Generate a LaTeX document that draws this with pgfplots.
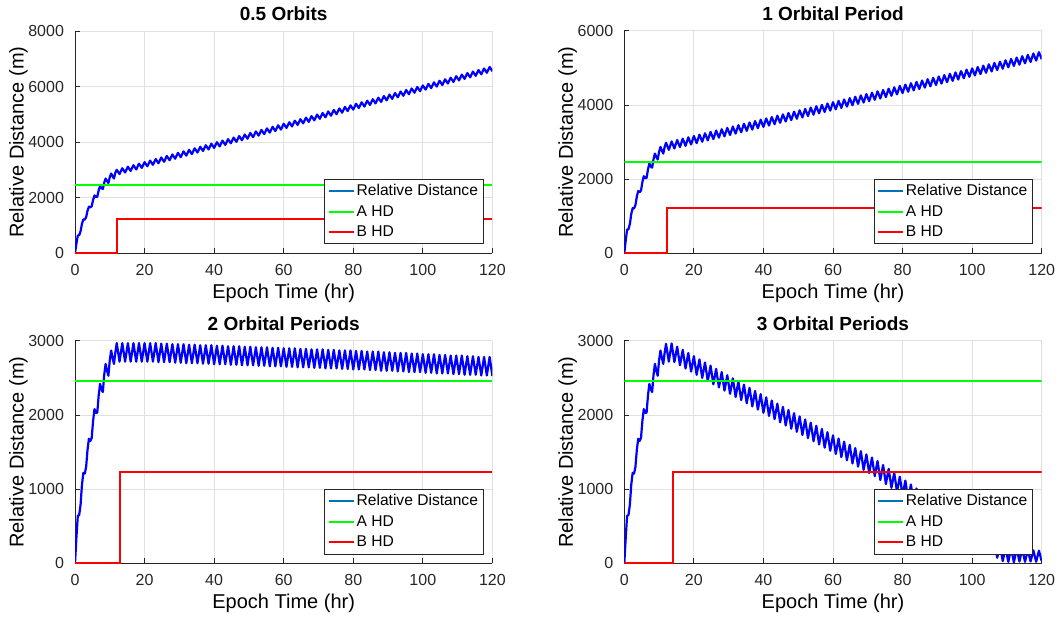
\documentclass[border=0pt]{standalone}
\usepackage{fontspec}
\setmainfont{Liberation Sans}
\usepackage{pgfplots}
\pgfplotsset{compat=1.18}
\usepackage{pgfplotstable}
\definecolor{mlblue}{rgb}{0,0.447,0.741}
\definecolor{axgray}{rgb}{0.15,0.15,0.15}
\definecolor{pblue}{rgb}{0,0,1}
\definecolor{pgreen}{rgb}{0,1,0}
\definecolor{pred}{rgb}{1,0,0}

\pgfplotstableread{
t a b c d
0.0 0 0 0 0
0.4 340 340 340 340
0.8 640 640 640 640
1.2 650 650 650 650
1.6 790 790 790 790
2.0 1060 1060 1060 1060
2.4 1220 1220 1220 1220
2.8 1210 1210 1210 1210
3.2 1300 1300 1300 1300
3.6 1530 1530 1530 1530
4.0 1680 1680 1680 1680
4.4 1650 1650 1650 1650
4.8 1690 1690 1690 1690
5.2 1920 1920 1920 1920
5.6 2080 2080 2080 2080
6.0 2030 2030 2030 2030
6.4 2030 2030 2030 2030
6.8 2260 2260 2260 2260
7.2 2420 2420 2420 2420
7.6 2350 2350 2350 2350
8.0 2310 2310 2310 2310
8.4 2540 2540 2540 2540
8.8 2690 2690 2690 2690
9.2 2600 2600 2600 2600
9.6 2530 2530 2530 2530
10.0 2740 2740 2740 2740
10.4 2870 2870 2870 2870
10.8 2770 2770 2770 2770
11.2 2690 2690 2690 2690
11.6 2900 2870 2845 2840
12.0 3004 2983 2970 2960
12.8 2852 2791 2720 2720
13.6 3059 3019 2970 2965
14.4 2907 2828 2720 2714
15.2 3114 3056 2970 2922
16.0 2962 2864 2720 2671
16.8 3170 3092 2970 2880
17.6 3017 2900 2720 2628
18.4 3225 3129 2970 2837
19.2 3072 2937 2720 2586
20.0 3280 3165 2970 2794
20.8 3128 2973 2720 2543
21.6 3335 3201 2970 2751
22.4 3183 3010 2720 2500
23.2 3390 3238 2970 2709
24.0 3238 3046 2713 2457
24.8 3446 3274 2963 2666
25.6 3293 3082 2713 2414
26.4 3501 3311 2963 2623
27.2 3348 3119 2713 2372
28.0 3556 3347 2956 2580
28.8 3404 3155 2706 2329
29.6 3611 3383 2956 2537
30.4 3459 3192 2706 2286
31.2 3666 3420 2956 2495
32.0 3514 3229 2699 2244
32.8 3722 3457 2949 2453
33.6 3569 3265 2699 2201
34.4 3777 3494 2949 2410
35.2 3624 3302 2699 2159
36.0 3832 3530 2942 2367
36.8 3680 3338 2692 2116
37.6 3887 3566 2942 2324
38.4 3735 3375 2692 2073
39.2 3942 3603 2942 2282
40.0 3790 3411 2685 2030
40.8 3998 3639 2935 2239
41.6 3845 3447 2685 1987
42.4 4053 3676 2935 2196
43.2 3900 3484 2685 1945
44.0 4108 3712 2928 2153
44.8 3956 3520 2678 1902
45.6 4163 3748 2928 2110
46.4 4011 3557 2678 1859
47.2 4218 3785 2928 2068
48.0 4066 3593 2671 1816
48.8 4274 3821 2921 2025
49.6 4121 3629 2671 1773
50.4 4329 3858 2921 1982
51.2 4176 3666 2671 1731
52.0 4384 3895 2914 1940
52.8 4232 3703 2664 1689
53.6 4439 3931 2914 1897
54.4 4287 3740 2664 1646
55.2 4494 3968 2914 1855
56.0 4342 3776 2657 1603
56.8 4550 4004 2907 1812
57.6 4397 3812 2657 1560
58.4 4605 4041 2907 1769
59.2 4452 3849 2657 1518
60.0 4660 4077 2900 1726
60.8 4508 3885 2650 1475
61.6 4715 4113 2900 1683
62.4 4563 3922 2650 1432
63.2 4770 4150 2900 1641
64.0 4618 3958 2643 1389
64.8 4826 4186 2893 1598
65.6 4673 3994 2643 1346
66.4 4881 4223 2893 1555
67.2 4728 4031 2643 1304
68.0 4936 4259 2886 1512
68.8 4784 4067 2636 1261
69.6 4991 4295 2886 1469
70.4 4839 4104 2636 1218
71.2 5046 4332 2886 1427
72.0 4894 4141 2629 1176
72.8 5102 4369 2879 1380
73.6 4949 4177 2629 1123
74.4 5157 4406 2879 1327
75.2 5004 4214 2629 1070
76.0 5212 4442 2872 1274
76.8 5060 4250 2622 1018
77.6 5267 4478 2872 1221
78.4 5115 4287 2622 965
79.2 5322 4515 2872 1168
80.0 5170 4323 2615 912
80.8 5378 4551 2865 1116
81.6 5225 4359 2615 859
82.4 5433 4588 2865 1063
83.2 5280 4396 2615 806
84.0 5488 4624 2856 1010
84.8 5336 4432 2606 754
85.6 5543 4660 2856 957
86.4 5391 4469 2606 701
87.2 5598 4697 2856 904
88.0 5446 4505 2597 648
88.8 5654 4733 2847 852
89.6 5501 4541 2597 595
90.4 5709 4770 2847 799
91.2 5556 4578 2597 542
92.0 5764 4807 2838 746
92.8 5612 4615 2588 490
93.6 5819 4843 2838 693
94.4 5667 4652 2588 437
95.2 5874 4880 2838 640
96.0 5722 4688 2579 384
96.8 5930 4916 2829 588
97.6 5777 4724 2579 331
98.4 5985 4953 2829 535
99.2 5832 4761 2579 278
100.0 6040 4989 2820 482
100.8 5888 4797 2570 226
101.6 6095 5025 2820 429
102.4 5943 4834 2570 173
103.2 6150 5062 2820 376
104.0 5998 4870 2561 160
104.8 6206 5098 2811 355
105.6 6053 4906 2561 130
106.4 6261 5135 2811 295
107.2 6108 4943 2561 75
108.0 6316 5171 2802 235
108.8 6164 4979 2552 30
109.6 6371 5207 2802 210
110.4 6219 5016 2552 20
111.2 6426 5244 2802 205
112.0 6274 5053 2543 15
112.8 6482 5281 2793 200
113.6 6329 5089 2543 25
114.4 6537 5318 2793 195
115.2 6384 5126 2543 20
116.0 6592 5354 2784 180
116.8 6440 5162 2534 25
117.6 6647 5390 2784 175
118.4 6495 5199 2534 20
119.2 6702 5427 2784 170
120.0 6550 5235 2525 30
}\reldist

\pgfplotsset{
  mstyle/.style={
    scale only axis, width=208.7pt, height=111.2pt,
    xmin=0, xmax=120, xtick={0,20,...,120},
    axis x line*=bottom, axis y line*=left,
    axis line style={axgray, line width=0.4pt},
    tick style={axgray, line width=0.4pt},
    tick align=inside, major tick length=2.5pt,
    grid=major, major grid style={line width=0.4pt, black!12},
    tick label style={font=\fontsize{8}{9.6}\selectfont, text=axgray},
    xticklabel style={yshift=-2pt},
    yticklabel style={xshift=-2pt},
    /pgf/number format/assume math mode=true,
    /pgf/number format/1000 sep={},
    scaled y ticks=false,
    label style={font=\fontsize{9.7}{11}\selectfont, text=axgray},
    every axis y label/.style={at={([xshift=-28.3pt]axis description cs:0,0.5)}, anchor=center, rotate=90},
    every axis x label/.style={at={([yshift=-20pt]axis description cs:0.5,0)}, anchor=center},
    every axis title/.style={at={([yshift=8.5pt]axis description cs:0.5,1)}, anchor=center},
    title style={font=\bfseries\fontsize{9.5}{11}\selectfont},
    xlabel={Epoch Time (hr)}, ylabel={Relative Distance (m)},
    legend style={at={(1,0)}, anchor=south east, xshift=-4.5pt, yshift=4.5pt,
      font=\fontsize{7.8}{9}\selectfont, draw=axgray, line width=0.4pt,
      inner xsep=1.5pt, inner ysep=1pt, row sep=0pt,
      nodes={text height=6pt, text depth=1.5pt, inner ysep=1.3pt, inner xsep=1pt}},
    legend cell align=left,
    legend image code/.code={\draw[#1] (0pt,0pt) -- (12.5pt,0pt);},
  },
  rdline/.style={pblue, line width=1.1pt, line join=round, forget plot},
  aline/.style={pgreen, line width=1pt},
  bline/.style={pred, line width=1pt},
}

\begin{document}
\begin{tikzpicture}
\path[use as bounding box] (0,0) rectangle (530pt,310.5pt);

\begin{axis}[mstyle, at={(37.5pt,183.85pt)}, anchor=south west,
  title={0.5 Orbits}, ymin=0, ymax=8000, ytick={0,2000,...,8000}]
\addlegendimage{mlblue, line width=1pt}
\addlegendentry{Relative Distance}
\addplot[rdline] table[x=t, y=a] {\reldist};
\addplot[aline] coordinates {(0,2465) (120,2465)};
\addlegendentry{A HD}
\addplot[bline] coordinates {(0,0) (12.0,0) (12.0,1235) (120,1235)};
\addlegendentry{B HD}
\end{axis}

\begin{axis}[mstyle, at={(312.15pt,183.85pt)}, anchor=south west,
  title={1 Orbital Period}, ymin=0, ymax=6000, ytick={0,2000,...,6000}]
\addlegendimage{mlblue, line width=1pt}
\addlegendentry{Relative Distance}
\addplot[rdline] table[x=t, y=b] {\reldist};
\addplot[aline] coordinates {(0,2465) (120,2465)};
\addlegendentry{A HD}
\addplot[bline] coordinates {(0,0) (12.2,0) (12.2,1235) (120,1235)};
\addlegendentry{B HD}
\end{axis}

\begin{axis}[mstyle, at={(37.5pt,28.85pt)}, anchor=south west,
  title={2 Orbital Periods}, ymin=0, ymax=3000, ytick={0,1000,...,3000}]
\addlegendimage{mlblue, line width=1pt}
\addlegendentry{Relative Distance}
\addplot[rdline] table[x=t, y=c] {\reldist};
\addplot[aline] coordinates {(0,2465) (120,2465)};
\addlegendentry{A HD}
\addplot[bline] coordinates {(0,0) (13.0,0) (13.0,1235) (120,1235)};
\addlegendentry{B HD}
\end{axis}

\begin{axis}[mstyle, at={(312.15pt,28.85pt)}, anchor=south west,
  title={3 Orbital Periods}, ymin=0, ymax=3000, ytick={0,1000,...,3000}]
\addlegendimage{mlblue, line width=1pt}
\addlegendentry{Relative Distance}
\addplot[rdline] table[x=t, y=d] {\reldist};
\addplot[aline] coordinates {(0,2465) (120,2465)};
\addlegendentry{A HD}
\addplot[bline] coordinates {(0,0) (13.9,0) (13.9,1235) (120,1235)};
\addlegendentry{B HD}
\end{axis}
\end{tikzpicture}
\end{document}
